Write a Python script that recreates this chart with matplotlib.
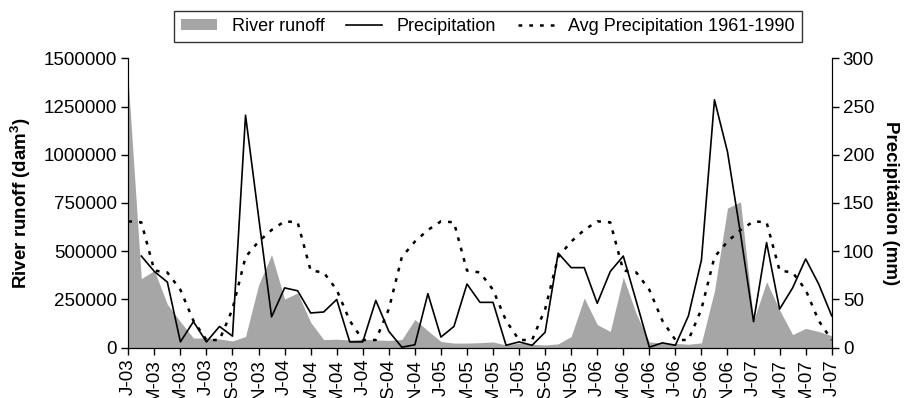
import matplotlib
matplotlib.use('Agg')
import matplotlib.pyplot as plt
from matplotlib.patches import Patch
from matplotlib.lines import Line2D
import numpy as np

plt.rcParams['font.family'] = ['Liberation Sans', 'DejaVu Sans']

# Monthly series, Jan 2003 .. Jul 2007
runoff = [1380000, 358000, 400000, 225000, 135000, 50000, 50000, 45000, 35000, 58000,
          325000, 482000, 252000, 284000, 132000, 42000, 44000, 40000, 44000, 40000,
          38000, 42000, 146000, 88000, 32000, 24000, 24000, 26000, 30000, 14000,
          24000, 18000, 14000, 20000, 58000, 258000, 120000, 84000, 366000, 175000,
          30000, 24000, 22000, 18000, 25000, 295000, 724000, 756000, 140000, 342000,
          195000, 68000, 100000, 84000, 62000]
# precipitation starts in Feb 2003
precip = [95, 79, 68, 6, 27, 6, 22, 12, 241, 136, 32,
          62, 59, 36, 37, 50, 6, 6, 49, 17, 0.5, 3, 56,
          11, 22, 66, 47, 47, 2.5, 6, 2.5, 16, 98, 83, 83,
          46, 79, 95, 48, 0.5, 5, 2.5, 33, 91, 257, 203, 118,
          27, 109, 40, 62, 92, 66, 33]
avg_precip = [131, 130, 80, 78, 60, 28, 8, 8, 40, 94, 110, 122,
              131, 130, 80, 78, 60, 28, 8, 8, 40, 94, 110, 122,
              131, 130, 80, 78, 60, 28, 8, 8, 40, 94, 110, 122,
              131, 130, 80, 78, 60, 28, 8, 8, 40, 94, 110, 122,
              131, 130, 80, 78, 60, 28, 8]
tick_labels = ['J-03', 'M-03', 'M-03', 'J-03', 'S-03', 'N-03',
               'J-04', 'M-04', 'M-04', 'J-04', 'S-04', 'N-04',
               'J-05', 'M-05', 'M-05', 'J-05', 'S-05', 'N-05',
               'J-06', 'M-06', 'M-06', 'J-06', 'S-06', 'N-06',
               'J-07', 'M-07', 'M-07', 'J-07']

x = np.arange(len(runoff))
xp = np.arange(1, len(precip) + 1)

fig = plt.figure(figsize=(9.06, 3.98), dpi=100)
ax = fig.add_axes([0.1416, 0.1264, 0.918 - 0.1416, 0.8535 - 0.1264])
gray = '#a6a6a6'
ax.fill_between(x, 0, runoff, color=gray, lw=0)
ax.set_xlim(0, len(runoff) - 1)
ax.set_ylim(0, 1500000)
ax.set_yticks(np.arange(0, 1500001, 250000))
ax.set_yticklabels([str(v) for v in range(0, 1500001, 250000)], fontsize=13.5)
ax.set_xticks(np.arange(0, len(runoff), 2))
ax.set_xticklabels(tick_labels, rotation=90, fontsize=13.5)
ax.set_ylabel('River runoff (dam$^\\mathregular{3}$)', fontsize=13.5, fontweight='bold', labelpad=8)
ax.spines['top'].set_visible(False)
ax.tick_params(direction='out', length=5, width=1, pad=3)

ax2 = ax.twinx()
ax2.plot(xp, precip, color='black', lw=1.2)
ax2.plot(x, avg_precip, color='black', lw=1.8, linestyle=(0, (1.5, 2.8)))
ax2.set_ylim(0, 300)
ax2.set_yticks(np.arange(0, 301, 50))
ax2.tick_params(direction='out', length=5, width=1, labelsize=13.5, pad=3)
ax2.set_ylabel('Precipitation (mm)', fontsize=13.5, fontweight='bold', rotation=270, labelpad=18)
ax2.spines['top'].set_visible(False)

handles = [Patch(facecolor=gray, edgecolor='none'),
           Line2D([], [], color='black', lw=1.2),
           Line2D([], [], color='black', lw=1.8, linestyle=(0, (1.5, 2.8)))]
leg = fig.legend(handles, ['River runoff', 'Precipitation', 'Avg Precipitation 1961-1990'],
                 loc='center', bbox_to_anchor=(488 / 906, 1 - 26.5 / 398), ncol=3,
                 fontsize=13, frameon=True, fancybox=False, handlelength=2.0,
                 handleheight=0.6, columnspacing=1.2, borderpad=0.4)
leg.get_frame().set_edgecolor('black')
leg.get_frame().set_linewidth(1)

fig.savefig('out.png', dpi=100)
